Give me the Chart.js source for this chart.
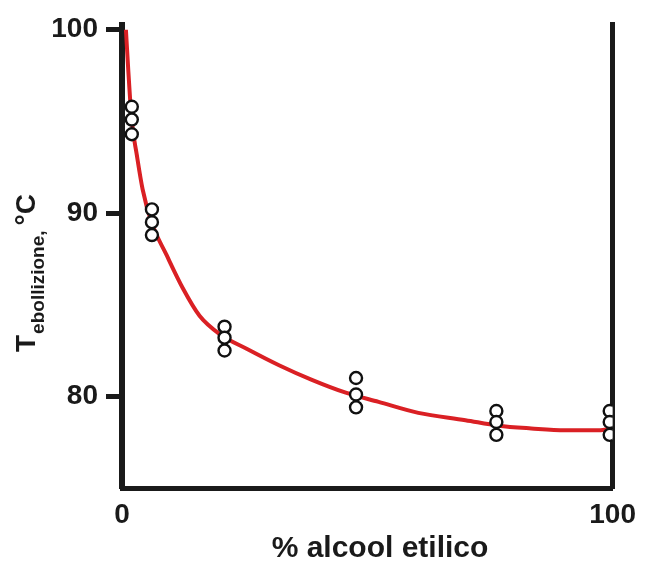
<!DOCTYPE html>
<html>
<head>
<meta charset="utf-8">
<script src="https://cdn.jsdelivr.net/npm/chart.js@4/dist/chart.umd.min.js"></script>
<style>
  html, body { margin: 0; padding: 0; background: #fff; }
  #wrap { width: 646px; height: 562px; }
</style>
</head>
<body>
<div id="wrap"><canvas id="chart_one"></canvas></div>
<script>
// fitted curve
const curveX = [0.8, 1.3, 2.0, 3.0, 4.2, 6.0, 9.1, 12.4, 15.8, 19.9, 25.4, 32.0, 38.7, 45.6, 52.3, 60.4, 70.0, 76.7, 83.4, 90.3, 97.0, 99.0];
const curveY = [100, 97.7, 95.0, 93.2, 91.3, 89.5, 87.7, 85.9, 84.4, 83.4, 82.6, 81.7, 80.9, 80.2, 79.7, 79.1, 78.7, 78.4, 78.25, 78.15, 78.15, 78.2];

// measured points (three per composition)
const pointX = [2.0, 2.0, 2.0, 6.1, 6.1, 6.1, 20.9, 20.9, 20.9, 47.7, 47.7, 47.7, 76.3, 76.3, 76.3, 99.4, 99.4, 99.4];
const pointY = [95.8, 95.1, 94.3, 90.2, 89.5, 88.8, 83.8, 83.2, 82.5, 81.0, 80.1, 79.4, 79.2, 78.6, 77.9, 79.2, 78.6, 77.9];

const xTicks = [0, 100];
const yTicks = [80, 90, 100];

const FONT = "Arial, 'Liberation Sans', sans-serif";
const INK = '#1a1a1a';

// axis titles: the y one has a subscript, so both are drawn here
const titles = {
  id: 'titles',
  afterDraw(chart) {
    const ctx = chart.ctx;
    ctx.save();
    ctx.fillStyle = INK;
    ctx.textBaseline = 'alphabetic';

    ctx.font = 'bold 30px ' + FONT;
    ctx.textAlign = 'center';
    ctx.fillText('% alcool etilico', 380, 557);

    ctx.translate(35, 352);
    ctx.rotate(-Math.PI / 2);
    ctx.textAlign = 'left';
    let pos = 0;
    ctx.font = 'bold 28px ' + FONT;
    ctx.fillText('T', pos, 0);
    pos += ctx.measureText('T').width + 1;
    ctx.font = 'bold 19px ' + FONT;
    ctx.fillText('ebollizione,', pos, 9);
    pos += ctx.measureText('ebollizione,').width + 5;
    ctx.font = 'bold 28px ' + FONT;
    ctx.fillText('°C', pos, 0);
    ctx.restore();
  }
};

const ct = document.getElementById('chart_one');
new Chart(ct, {
  type: 'scatter',
  data: {
    datasets: [{
      data: pointX.map((v, i) => ({x: v, y: pointY[i]})),
      pointRadius: 6,
      pointBorderWidth: 2.4,
      pointBackgroundColor: '#fff',
      pointBorderColor: '#111',
      order: 1
    }, {
      data: curveX.map((v, i) => ({x: v, y: curveY[i]})),
      showLine: true,
      pointRadius: 0,
      borderColor: 'rgb(218, 32, 36)',
      borderWidth: 4,
      cubicInterpolationMode: 'monotone',
      order: 2
    }]
  },
  options: {
    responsive: true,
    maintainAspectRatio: false,
    animation: false,
    layout: { padding: { left: 0, right: 0, top: 22, bottom: 0 } },
    plugins: { legend: { display: false }, tooltip: { enabled: false } },
    scales: {
      x: {
        type: 'linear',
        min: 0,
        max: 100,
        afterBuildTicks: (s) => { s.ticks = xTicks.map(v => ({value: v})); },
        afterFit: (s) => { s.height = 74; },
        border: { color: INK, width: 5 },
        grid: { drawOnChartArea: false, drawTicks: false },
        ticks: {
          color: INK,
          padding: 10,
          maxRotation: 0,
          autoSkip: false,
          font: { family: FONT, size: 28, weight: 'bold' }
        }
      },
      y: {
        min: 75,
        max: 100.27,
        afterBuildTicks: (s) => { s.ticks = yTicks.map(v => ({value: v})); },
        afterFit: (s) => { s.width = 122; },
        border: { color: INK, width: 6 },
        grid: { drawOnChartArea: false, drawTicks: true, tickLength: 16, tickWidth: 5, tickColor: INK },
        ticks: {
          color: INK,
          padding: 8,
          autoSkip: false,
          font: { family: FONT, size: 28, weight: 'bold' }
        }
      },
      y2: {
        position: 'right',
        min: 75,
        max: 100.27,
        afterFit: (s) => { s.width = 31; },
        border: { color: INK, width: 5 },
        grid: { drawOnChartArea: false, drawTicks: false },
        ticks: { display: false }
      }
    }
  },
  plugins: [titles]
});
</script>
</body>
</html>
